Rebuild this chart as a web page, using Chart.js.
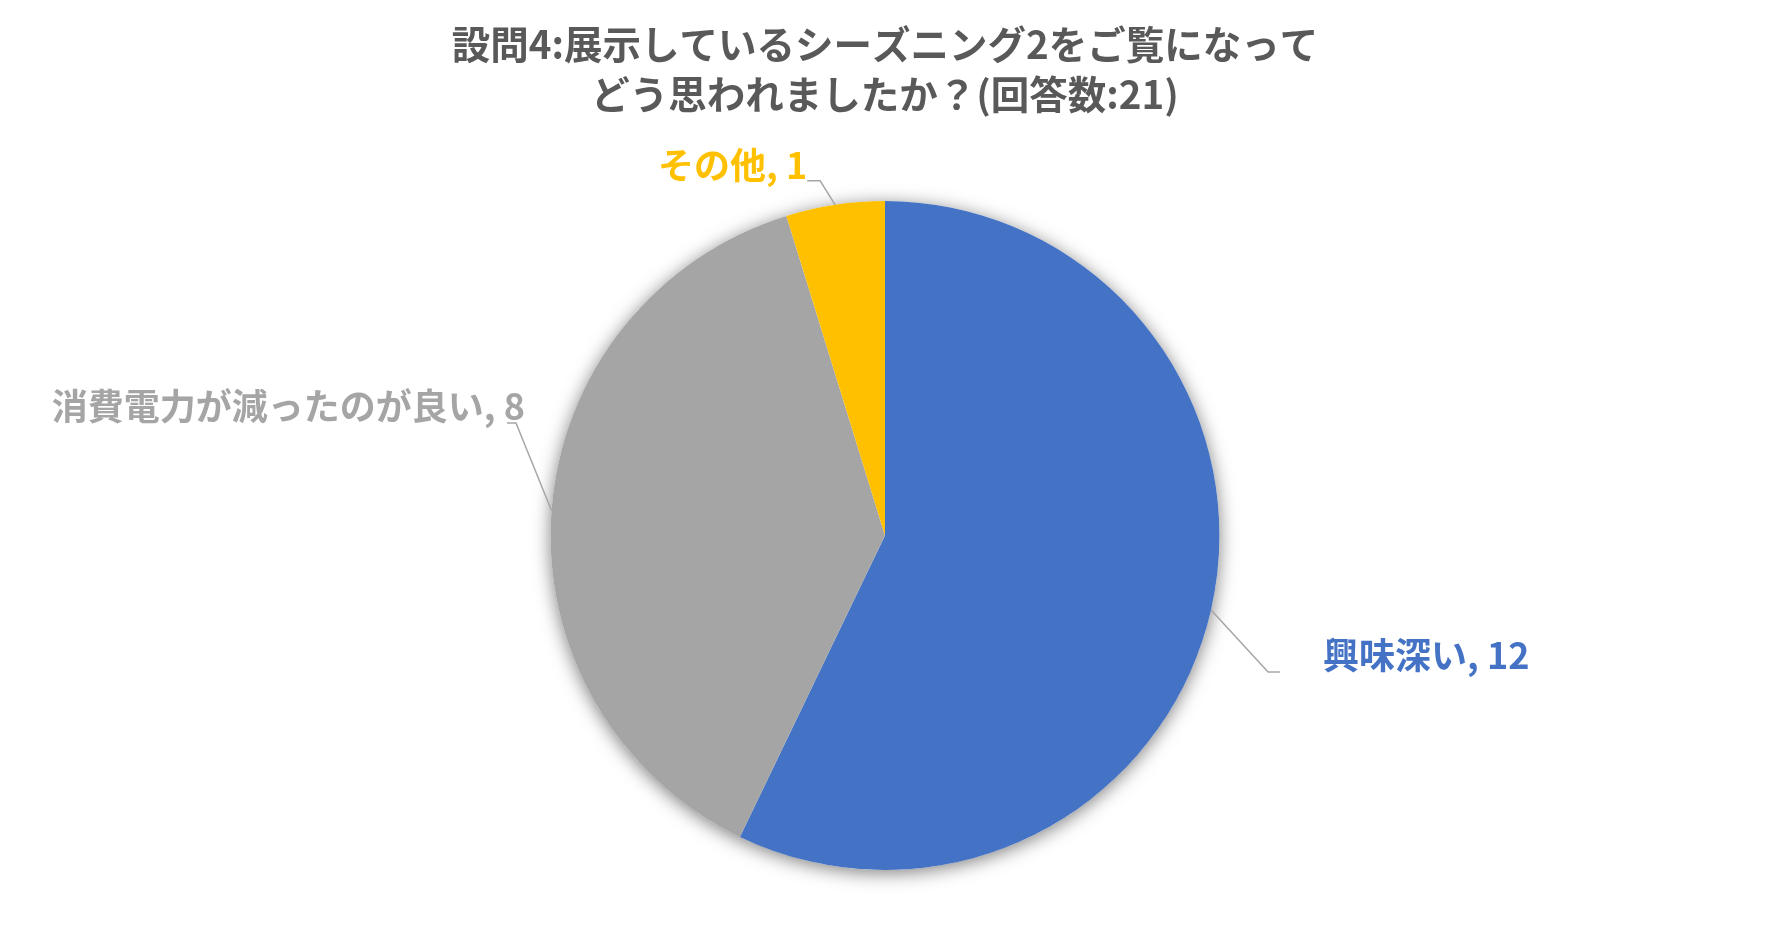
<!DOCTYPE html>
<html>
<head>
<meta charset="utf-8">
<script src="https://cdn.jsdelivr.net/npm/chart.js@4/dist/chart.umd.min.js"></script>
<style>
  html, body { margin: 0; padding: 0; background: #ffffff; }
  #wrap { width: 1772px; height: 945px; position: relative; }
</style>
</head>
<body>
<div id="wrap"><canvas id="c" width="1772" height="945"></canvas></div>
<script>
// ---- data ----
const titleLines = ['設問4:展示しているシーズニング2をご覧になって', 'どう思われましたか？(回答数:21)'];
const categories = ['興味深い', '消費電力が減ったのが良い', 'その他'];
const counts = [12, 8, 1];

// ---- styles ----
const sliceColors = ['#4472C4', '#A5A5A5', '#FFC000'];
const FONT = '"Noto Sans CJK JP", "Noto Sans", sans-serif';
// leader line / label layout, offsets relative to the slice's outer mid point
const labelLayout = [
  { elbow: [57, 62],     end: [69, 62],     text: [112, 45],     align: 'left' },
  { elbow: [-35.5, -87.5], end: [-44.5, -87.5], text: [-26.5, -104.5], align: 'right' },
  { elbow: [-15, -24],   end: [-28, -24],   text: [-28, -40],    align: 'right' }
];

const pieDecor = {
  id: 'pieDecor',
  beforeDatasetsDraw(chart) {
    const ctx = chart.ctx;
    const arc = chart.getDatasetMeta(0).data[0];
    const p = arc.getProps(['x', 'y', 'outerRadius'], true);
    ctx.save();
    ctx.shadowColor = 'rgba(0,0,0,0.5)';
    ctx.shadowBlur = 18;
    ctx.shadowOffsetX = 0;
    ctx.shadowOffsetY = 3;
    ctx.fillStyle = '#ffffff';
    ctx.beginPath();
    ctx.arc(p.x, p.y, p.outerRadius, 0, Math.PI * 2);
    ctx.fill();
    ctx.restore();
  },
  afterDatasetsDraw(chart) {
    const ctx = chart.ctx;
    const meta = chart.getDatasetMeta(0);
    meta.data.forEach((arc, i) => {
      const p = arc.getProps(['x', 'y', 'startAngle', 'endAngle', 'outerRadius'], true);
      const mid = (p.startAngle + p.endAngle) / 2;
      const ex = p.x + Math.cos(mid) * p.outerRadius;
      const ey = p.y + Math.sin(mid) * p.outerRadius;
      const L = labelLayout[i];
      ctx.save();
      ctx.strokeStyle = '#A6A6A6';
      ctx.lineWidth = 1.5;
      ctx.beginPath();
      ctx.moveTo(ex, ey);
      ctx.lineTo(ex + L.elbow[0], ey + L.elbow[1]);
      ctx.lineTo(ex + L.end[0], ey + L.end[1]);
      ctx.stroke();
      ctx.fillStyle = sliceColors[i];
      ctx.font = 'bold 36px ' + FONT;
      ctx.textAlign = L.align;
      ctx.textBaseline = 'middle';
      ctx.fillText(categories[i] + ', ' + counts[i], ex + L.text[0], ey + L.text[1]);
      ctx.restore();
    });
  }
};

new Chart(document.getElementById('c'), {
  type: 'pie',
  data: {
    labels: categories,
    datasets: [{
      data: counts,
      backgroundColor: sliceColors,
      borderWidth: 0,
      hoverOffset: 0
    }]
  },
  options: {
    responsive: false,
    animation: false,
    events: [],
    layout: { padding: { top: 0, bottom: 75, left: 0, right: 2 } },
    plugins: {
      legend: { display: false },
      tooltip: { enabled: false },
      title: {
        display: true,
        text: titleLines,
        color: '#595959',
        font: { family: FONT, size: 38.5, weight: 'bold', lineHeight: 1.3 },
        padding: { top: 19, bottom: 82 }
      }
    }
  },
  plugins: [pieDecor]
});
</script>
</body>
</html>
